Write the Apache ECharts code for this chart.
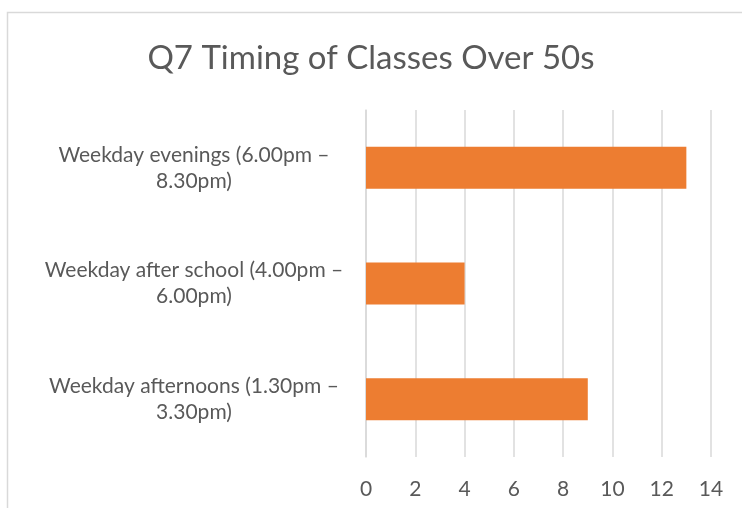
<!DOCTYPE html>
<html>
<head>
<meta charset="utf-8">
<script src="https://cdn.jsdelivr.net/npm/echarts@6/dist/echarts.min.js"></script>
<style>
html,body{margin:0;padding:0;background:#fff;}
#c{width:742px;height:508px;}
</style>
</head>
<body>
<div id="c"></div>
<script>
const titleText = 'Q7 Timing of Classes Over 50s';
const categories = [
  'Weekday afternoons (1.30pm – 3.30pm)',
  'Weekday after school (4.00pm – 6.00pm)',
  'Weekday evenings (6.00pm – 8.30pm)'
];
const values = [9, 4, 13];
const xMin = 0, xMax = 14, xStep = 2;

const chart = echarts.init(document.getElementById('c'));
const font = 'Lato, "Open Sans", sans-serif';
chart.setOption({
  animation: false,
  backgroundColor: '#fff',
  graphic: [{
    type: 'rect',
    shape: {x: 7.5, y: 12.5, width: 900, height: 700},
    style: {fill: 'none', stroke: '#d9d9d9', lineWidth: 1.5},
    silent: true
  }],
  title: {
    text: titleText,
    left: 'center',
    top: 37,
    textStyle: {fontFamily: font, fontSize: 33, fontWeight: 'normal', color: '#595959'}
  },
  grid: {left: 366, right: 31, top: 110, bottom: 51, containLabel: false},
  xAxis: {
    type: 'value',
    min: xMin, max: xMax, interval: xStep,
    axisLine: {show: false},
    axisTick: {show: false},
    splitLine: {show: true, lineStyle: {color: '#d9d9d9', width: 1.5}},
    axisLabel: {fontFamily: font, fontSize: 21, color: '#595959', margin: 22}
  },
  yAxis: {
    type: 'category',
    data: categories,
    axisLine: {show: true, lineStyle: {color: '#d9d9d9', width: 1.5}},
    axisTick: {show: false},
    axisLabel: {
      fontFamily: font, fontSize: 21, color: '#595959',
      align: 'center', margin: 172, lineHeight: 26,
      formatter: v => v.replace('– ', '–\n')
    }
  },
  series: [{
    type: 'bar',
    data: values,
    barWidth: 42,
    itemStyle: {color: '#ED7D31'}
  }]
});
</script>
</body>
</html>
